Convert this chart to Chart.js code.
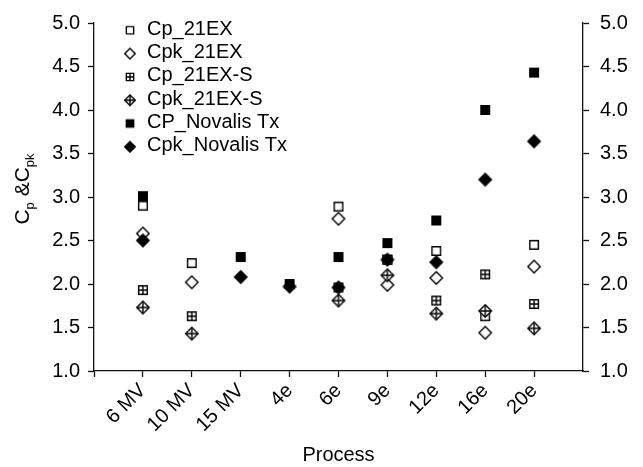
<!DOCTYPE html>
<html>
<head>
<meta charset="utf-8">
<script src="https://cdn.jsdelivr.net/npm/chart.js@4.4.0/dist/chart.umd.min.js"></script>
<style>
  html, body { margin: 0; padding: 0; background: #fff; }
  #wrap { width: 643px; height: 467px; }
</style>
</head>
<body>
<div id="wrap"><canvas id="chart"></canvas></div>
<script>
const processes = ["6 MV", "10 MV", "15 MV", "4e", "6e", "9e", "12e", "16e", "20e"];
const seriesNames = ["Cp_21EX", "Cpk_21EX", "Cp_21EX-S", "Cpk_21EX-S", "CP_Novalis Tx", "Cpk_Novalis Tx"];

// values, null where a process has no point
const cp21ex     = [2.90, 2.24, null, null, 2.89, 2.28, 2.38, 1.63, 2.45];
const cpk21ex    = [2.58, 2.02, null, null, 2.75, 1.99, 2.07, 1.44, 2.20];
const cp21exS    = [1.93, 1.63, null, null, 1.96, 2.28, 1.81, 2.11, 1.77];
const cpk21exS   = [1.73, 1.43, null, null, 1.81, 2.10, 1.66, 1.69, 1.49];
const cpNovalis  = [3.01, null, 2.31, 2.00, 2.31, 2.47, 2.73, 4.00, 4.43];
const cpkNovalis = [2.50, null, 2.08, 1.97, 1.96, 2.28, 2.25, 3.20, 3.64];

const yMin = 1.0, yMax = 5.0, yStep = 0.5;

const FONT = "'Liberation Sans', Arial, sans-serif";

// marker images: square / diamond, open / crossed / filled
function makeMarker(shape, fill, cross, s) {
  const size = Math.ceil(18 * s);
  const c = document.createElement("canvas");
  c.width = size;
  c.height = size;
  const g = c.getContext("2d");
  const m = size / 2;
  g.lineWidth = 1.4;
  g.strokeStyle = "#000";
  g.fillStyle = fill ? "#000" : "#fff";
  g.beginPath();
  let h;
  if (shape === "square") {
    h = 4.3 * s;
    g.rect(m - h, m - h, 2 * h, 2 * h);
  } else {
    h = 6.2 * s;
    g.moveTo(m, m - h);
    g.lineTo(m + h, m);
    g.lineTo(m, m + h);
    g.lineTo(m - h, m);
    g.closePath();
  }
  g.fill();
  g.stroke();
  if (cross) {
    g.beginPath();
    g.moveTo(m - h, m);
    g.lineTo(m + h, m);
    g.moveTo(m, m - h);
    g.lineTo(m, m + h);
    g.stroke();
  }
  return c;
}

const markerDefs = [
  ["square", false, false],
  ["diamond", false, false],
  ["square", false, true],
  ["diamond", false, true],
  ["square", true, false],
  ["diamond", true, false]
];
const plotMarkers = markerDefs.map(d => makeMarker(d[0], d[1], d[2], 1));
const legendMarkers = markerDefs.map(d => makeMarker(d[0], d[1], d[2], 0.85));

function toPoints(arr) {
  const pts = [];
  arr.forEach((v, i) => {
    if (v !== null) pts.push({ x: i + 1, y: v });
  });
  return pts;
}

const allSeries = [cp21ex, cpk21ex, cp21exS, cpk21exS, cpNovalis, cpkNovalis];

const datasets = allSeries.map((arr, i) => ({
  label: seriesNames[i],
  data: toPoints(arr),
  pointStyle: plotMarkers[i],
  pointRadius: 6,
  pointHoverRadius: 6,
  showLine: false,
  order: allSeries.length - i,
  yAxisID: "y"
}));

// legend in the upper left of the plot
const cornerLegend = {
  id: "cornerLegend",
  afterDraw(chart) {
    const ctx = chart.ctx;
    ctx.save();
    ctx.font = "20px " + FONT;
    ctx.fillStyle = "#000";
    ctx.textBaseline = "alphabetic";
    ctx.textAlign = "left";
    chart.data.datasets.forEach((ds, i) => {
      const my = 30.3 + i * 23.3;
      const img = legendMarkers[i];
      ctx.drawImage(img, 130 - img.width / 2, my - img.height / 2);
      ctx.fillText(ds.label, 147, my + 4.5);
    });
    ctx.restore();
  }
};

// rotated y title with subscripts: C_p &C_pk
const yTitle = {
  id: "yTitle",
  afterDraw(chart) {
    const ctx = chart.ctx;
    const parts = [["C", 21, 0], ["p", 13, 5], [" &C", 21, 0], ["pk", 13, 5]];
    ctx.save();
    ctx.translate(26, 189);
    ctx.rotate(-Math.PI / 2);
    ctx.fillStyle = "#000";
    ctx.textBaseline = "alphabetic";
    let total = 0;
    parts.forEach(p => {
      ctx.font = p[1] + "px " + FONT;
      total += ctx.measureText(p[0]).width;
    });
    let x = -total / 2;
    parts.forEach(p => {
      ctx.font = p[1] + "px " + FONT;
      ctx.fillText(p[0], x, 3 + p[2]);
      x += ctx.measureText(p[0]).width;
    });
    ctx.restore();
  }
};

const axisColor = "#111";

function yAxis(position, pad, width) {
  return {
    type: "linear",
    position: position,
    min: yMin,
    max: yMax,
    afterFit: s => { s.width = width; },
    ticks: {
      stepSize: yStep,
      padding: pad,
      color: "#000",
      font: { family: FONT, size: 20 },
      callback: v => v.toFixed(1)
    },
    grid: {
      drawOnChartArea: false,
      drawTicks: true,
      tickLength: 6,
      tickWidth: 1.3,
      tickColor: axisColor
    },
    border: { display: true, color: axisColor, width: 1.3 }
  };
}

new Chart(document.getElementById("chart"), {
  type: "scatter",
  data: { datasets: datasets },
  options: {
    responsive: true,
    maintainAspectRatio: false,
    animation: false,
    layout: { padding: { top: 20, left: 0, right: 0, bottom: 0 } },
    plugins: {
      legend: { display: false },
      tooltip: { enabled: false }
    },
    scales: {
      x: {
        type: "linear",
        min: 0,
        max: processes.length + 1,
        afterFit: s => { s.height = 96; },
        ticks: {
          stepSize: 1,
          autoSkip: false,
          minRotation: 45,
          maxRotation: 45,
          padding: 2,
          color: "#000",
          font: { family: FONT, size: 20 },
          callback: v => processes[v - 1] || ""
        },
        grid: {
          drawOnChartArea: false,
          drawTicks: true,
          tickLength: 6,
          tickWidth: 1.3,
          tickColor: c => (c.tick && c.tick.value === processes.length + 1) ? "rgba(0,0,0,0)" : axisColor
        },
        border: { display: true, color: axisColor, width: 1.3 },
        title: {
          display: true,
          text: "Process",
          color: "#000",
          font: { family: FONT, size: 20, lineHeight: 1.2 },
          padding: { top: 0, bottom: 0 }
        }
      },
      y: yAxis("left", 8, 94),
      y2: yAxis("right", 11, 60)
    }
  },
  plugins: [cornerLegend, yTitle]
});
</script>
</body>
</html>
